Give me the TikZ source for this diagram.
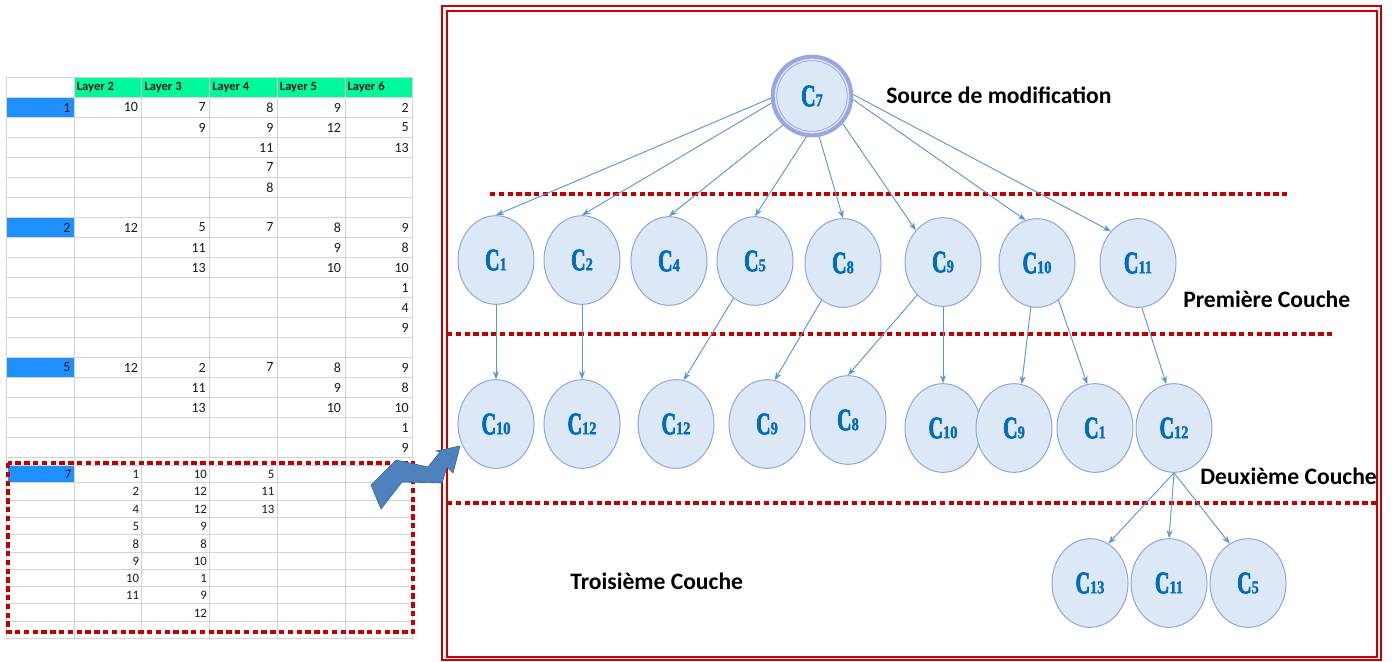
\documentclass[tikz,border=0pt]{standalone}
\usepackage{fontspec}
\setmainfont{Carlito}
\newfontfamily\cfont[FakeStretch=0.64,FakeBold=2.2]{Liberation Serif Bold}
\newfontfamily\dfont[FakeStretch=0.8,FakeBold=1.5]{Liberation Serif Bold}
\usetikzlibrary{arrows.meta,shapes.geometric}
\definecolor{framered}{RGB}{204,0,0}
\definecolor{dashred}{RGB}{192,0,0}
\definecolor{nodefill}{RGB}{221,232,247}
\definecolor{nodeborder}{RGB}{143,165,222}
\definecolor{ringc}{RGB}{155,165,228}
\definecolor{edgec}{RGB}{91,150,213}
\definecolor{labelblue}{RGB}{0,108,190}
\definecolor{gridc}{RGB}{212,212,212}
\definecolor{headgreen}{RGB}{0,250,154}
\definecolor{cellblue}{RGB}{30,144,255}
\definecolor{arrowfill}{RGB}{79,129,189}
\definecolor{arrowdraw}{RGB}{60,104,150}
\newcommand{\cn}[1]{{\cfont\fontsize{23.5}{24}\selectfont C}{\dfont\fontsize{13.5}{14}\selectfont #1}}
\tikzset{
  cnode/.style={ellipse, draw=nodeborder, fill=nodefill, line width=0.75pt,
    minimum width=57pt, minimum height=66.5pt, inner sep=0pt, text=labelblue},
  edge/.style={draw=edgec, line width=0.7pt, -{Stealth[length=6pt,width=4.5pt]}},
  sepline/.style={draw=dashred, line width=2.6pt, dash pattern=on 4pt off 2.6pt},
  layerlabel/.style={font=\bfseries\fontsize{17.7}{20}\selectfont, inner sep=0pt, anchor=base west},
  gridline/.style={draw=gridc, line width=0.75pt},
  numcell/.style={font=\fontsize{10.5}{11}\selectfont, inner sep=0pt, anchor=east, text=black!90},
  numcellsmall/.style={font=\fontsize{9.6}{10}\selectfont, inner sep=0pt, anchor=east, text=black!90},
  headcell/.style={font=\bfseries\fontsize{9.4}{11}\selectfont, inner sep=0pt, anchor=west, text=black!90},
  frameline/.style={draw=framered, line width=1.6pt}
}
\begin{document}
\begin{tikzpicture}[x=0.75pt,y=-0.75pt]
\useasboundingbox (0,0) rectangle (1395,661);

% ---------- spreadsheet ----------
\fill[headgreen] (74,77) rectangle (412,97);
\fill[cellblue] (7,97) rectangle (74,117);
\fill[cellblue] (7,217) rectangle (74,237);
\fill[cellblue] (7,357) rectangle (74,377);
\fill[cellblue] (8,465.5) rectangle (75,482.8);
\foreach \x in {6,74,141,209,277,345,412} \draw[gridline] (\x,77) -- (\x,640);
\foreach \k in {0,...,19} \draw[gridline] (6,{77+20*\k}) -- (412,{77+20*\k});
\foreach \k in {0,...,10} \draw[gridline] (6,{465.5+17.3*\k}) -- (412,{465.5+17.3*\k});
\foreach \c in {2,...,6} \node[headcell] (h\c) at ({6+67.67*(\c-1)+3},87.5) {Layer \c};
\foreach \r/\c/\v in {0/1/1,0/2/10,0/3/7,0/4/8,0/5/9,0/6/2,
  1/3/9,1/4/9,1/5/12,1/6/5, 2/4/11,2/6/13, 3/4/7, 4/4/8,
  6/1/2,6/2/12,6/3/5,6/4/7,6/5/8,6/6/9, 7/3/11,7/5/9,7/6/8, 8/3/13,8/5/10,8/6/10,
  9/6/1, 10/6/4, 11/6/9,
  13/1/5,13/2/12,13/3/2,13/4/7,13/5/8,13/6/9, 14/3/11,14/5/9,14/6/8, 15/3/13,15/5/10,15/6/10,
  16/6/1, 17/6/9}
  \node[numcell] (u\r c\c) at ({6+67.67*\c-3},{107.5+20*\r}) {\v};
\foreach \r/\c/\v in {0/1/7,0/2/1,0/3/10,0/4/5, 1/2/2,1/3/12,1/4/11, 2/2/4,2/3/12,2/4/13,
  3/2/5,3/3/9, 4/2/8,4/3/8, 5/2/9,5/3/10, 6/2/10,6/3/1, 7/2/11,7/3/9, 8/3/12}
  \node[numcellsmall] (l\r c\c) at ({7+67.67*\c-3},{474.5+17.3*\r}) {\v};
\draw[sepline] (8,463) rectangle (413,632);

% ---------- frame ----------
\draw[frameline] (442,6) rectangle (1381,660);
\draw[frameline] (447,11) rectangle (1377,657);

% ---------- separators ----------
\coordinate (s1a) at (490,194); \coordinate (s1b) at (1288,194);
\coordinate (s2a) at (447,334); \coordinate (s2b) at (1333,334);
\coordinate (s3a) at (447,503); \coordinate (s3b) at (1376,503);
\draw[sepline] (s1a) -- (s1b);
\draw[sepline] (s2a) -- (s2b);
\draw[sepline] (s3a) -- (s3b);

% ---------- nodes ----------
\node[circle, draw=ringc, line width=3pt, fill=nodefill, minimum size=59pt, inner sep=0pt, text=labelblue] (c7) at (812,96) {};
\draw[ringc, line width=0.6pt] (c7.center) circle[radius=26.5pt];
\node[text=labelblue, inner sep=0pt] (c7lab) at (812,96) {\cn{7}};

\node[cnode] (a1) at (496,260) {\cn{1}};
\node[cnode] (a2) at (582,260) {\cn{2}};
\node[cnode] (a4) at (669,261) {\cn{4}};
\node[cnode] (a5) at (755,261) {\cn{5}};
\node[cnode] (a8) at (843,263) {\cn{8}};
\node[cnode] (a9) at (943,262) {\cn{9}};
\node[cnode] (a10) at (1037,263) {\cn{10}};
\node[cnode] (a11) at (1138,263) {\cn{11}};

\node[cnode] (b1) at (496,424) {\cn{10}};
\node[cnode] (b2) at (582,424) {\cn{12}};
\node[cnode] (b3) at (676,424) {\cn{12}};
\node[cnode] (b4) at (767,424) {\cn{9}};
\node[cnode] (b5) at (848,420) {\cn{8}};
\node[cnode] (b6) at (943,428) {\cn{10}};
\node[cnode] (b7) at (1014,428) {\cn{9}};
\node[cnode] (b8) at (1095,428) {\cn{1}};
\node[cnode] (b9) at (1174,428) {\cn{12}};

\node[cnode] (d1) at (1090,583) {\cn{13}};
\node[cnode] (d2) at (1169,583) {\cn{11}};
\node[cnode] (d3) at (1248,583) {\cn{5}};

% ---------- labels ----------
\node[layerlabel] (t0) at (886,103) {Source de modification};
\node[layerlabel] (t1) at (1183,307.5) {Première Couche};
\node[layerlabel] (t2) at (1200,484.5) {Deuxième Couche};
\node[layerlabel] (t3) at (570,589.5) {Troisième Couche};

% ---------- edges ----------
\draw[edge] (c7.183) -- (a1.north);
\draw[edge] (c7.190) -- (a2.north);
\draw[edge] (c7.225) -- (a4.north);
\draw[edge] (c7.262) -- (a5.north);
\draw[edge] (c7.280) -- (a8.north);
\draw[edge] (c7.318) -- (a9.north west);
\draw[edge] (c7.355) -- (a10.105);
\draw[edge] (c7.2) -- (a11.north west);

\draw[edge] (a1.south) -- (b1.north);
\draw[edge] (a2.south) -- (b2.north);
\draw[edge] (a5.240) -- (b3.80);
\draw[edge] (a8.240) -- (b4.80);
\draw[edge] (a9.232) -- (b5.north);
\draw[edge] (a9.south) -- (b6.north);
\draw[edge] (a10.262) -- (b7.80);
\draw[edge] (a10.300) -- (b8.100);
\draw[edge] (a11.275) -- (b9.100);
\draw[edge] (b9.south) -- (d1.65);
\draw[edge] (b9.south) -- (d2.north);
\draw[edge] (b9.south) -- (d3.115);

% ---------- zigzag arrow ----------
\filldraw[fill=arrowfill, draw=arrowdraw, line width=0.5pt]
  (371,485) -- (396,460) -- (428,467) -- (440,452) -- (436,451) -- (460,446)
  -- (453,473) -- (447,467) -- (442,483) -- (402,482) -- (381,509) -- cycle;
\end{tikzpicture}
\end{document}
